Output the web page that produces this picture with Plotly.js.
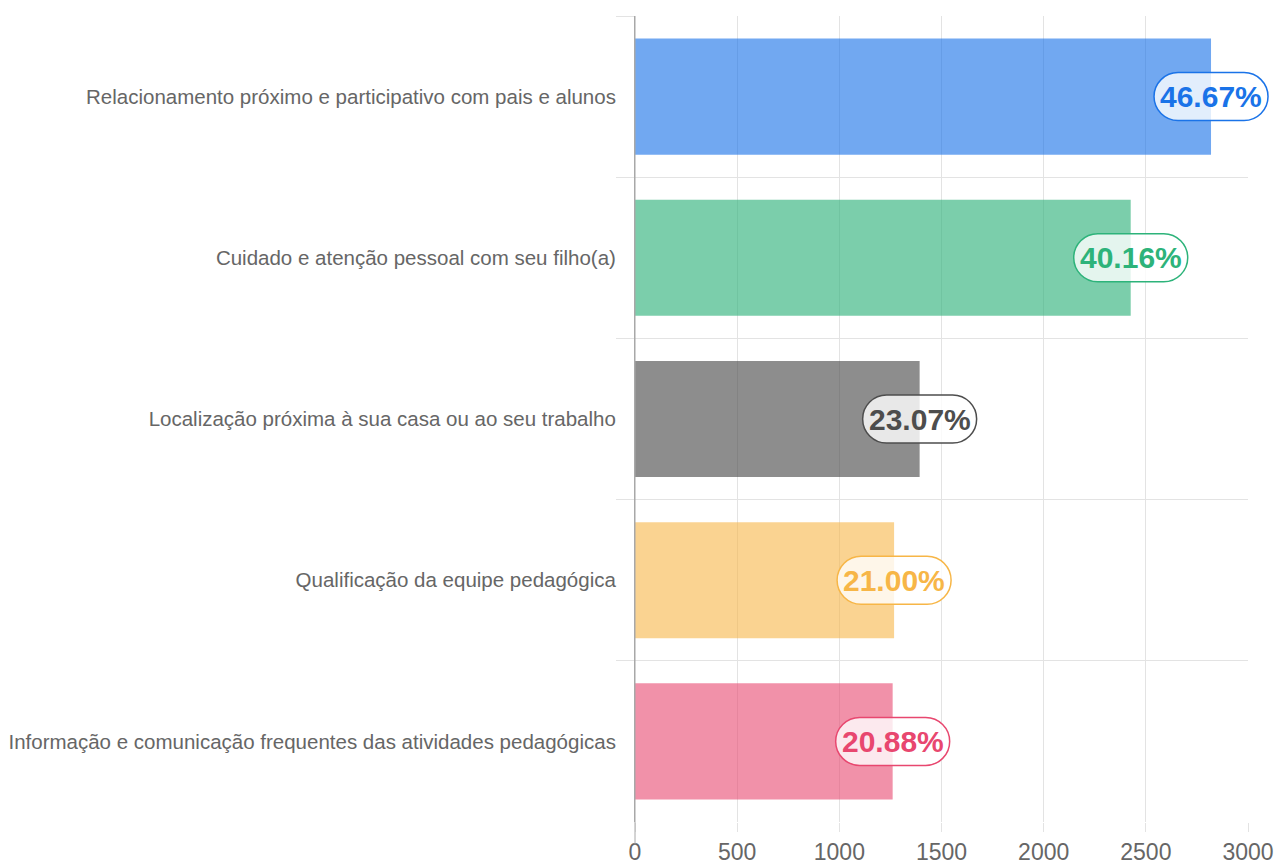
<!DOCTYPE html>
<html>
<head>
<meta charset="utf-8">
<script src="https://cdn.plot.ly/plotly-3.0.1.min.js"></script>
<style>
  html, body { margin: 0; padding: 0; background: #fff; }
  #chart { width: 1279px; height: 865px; }
</style>
</head>
<body>
<div id="chart"></div>
<script>
const categories = [
    'Relacionamento próximo e participativo com pais e alunos',
    'Cuidado e atenção pessoal com seu filho(a)',
    'Localização próxima à sua casa ou ao seu trabalho',
    'Qualificação da equipe pedagógica',
    'Informação e comunicação frequentes das atividades pedagógicas'
];
const counts = [2819, 2426, 1393, 1268, 1261];
const percents = [46.67, 40.16, 23.07, 21.00, 20.88];
const textColors = ['#1a73e8', '#2db37a', '#4d4d4d', '#f7b647', '#e8476f'];
const barColors = ['rgba(26,115,232,0.62)', 'rgba(52,180,126,0.65)', 'rgba(77,77,77,0.64)',
                   'rgba(247,182,72,0.6)', 'rgba(232,71,111,0.6)'];

const FONT = '"Liberation Sans", Arial, Helvetica, sans-serif';
const xRange = [0, 3000];

// pill outline in pixels around an anchor point
function pillPath(w, h) {
    const r = h / 2, a = w / 2 - r, k = r * 0.5523;
    return `M ${-a},${-r} L ${a},${-r} ` +
        `C ${a + k},${-r} ${a + r},${-k} ${a + r},0 ` +
        `C ${a + r},${k} ${a + k},${r} ${a},${r} ` +
        `L ${-a},${r} ` +
        `C ${-a - k},${r} ${-a - r},${k} ${-a - r},0 ` +
        `C ${-a - r},${-k} ${-a - k},${-r} ${-a},${-r} Z`;
}

const trace = {
    type: 'bar',
    orientation: 'h',
    x: counts,
    y: categories,
    marker: { color: barColors, line: { width: 0 } },
    hoverinfo: 'x+y'
};

// paper coords so the pill is not clipped at the plot edge
const n = categories.length;
const xFrac = v => (v - xRange[0]) / (xRange[1] - xRange[0]);
const yFrac = i => 1 - (i + 0.5) / n;

const shapes = categories.map((c, i) => ({
    type: 'path',
    xref: 'paper', yref: 'paper',
    xsizemode: 'pixel', ysizemode: 'pixel',
    xanchor: xFrac(counts[i]), yanchor: yFrac(i),
    path: pillPath(114, 48),
    fillcolor: 'rgba(255,255,255,0.8)',
    line: { color: textColors[i], width: 1.5 },
    layer: 'above'
}));

// darker zero line, running a little below the axis like the tick
shapes.push({
    type: 'line', xref: 'paper', yref: 'paper',
    x0: 0, x1: 0, y0: -0.028, y1: 1,
    line: { color: '#a8a8a8', width: 1 }
});

const annotations = categories.map((c, i) => ({
    x: xFrac(counts[i]), y: yFrac(i),
    xref: 'paper', yref: 'paper',
    text: '<b>' + percents[i].toFixed(2) + '%</b>',
    showarrow: false,
    font: { family: FONT, size: 30, color: textColors[i] },
    xanchor: 'center', yanchor: 'middle'
}));

const layout = {
    width: 1279, height: 865,
    margin: { l: 635, r: 31, t: 16, b: 43 },
    paper_bgcolor: '#fff',
    plot_bgcolor: '#fff',
    font: { family: FONT, color: '#666' },
    bargap: 0.28,
    showlegend: false,
    xaxis: {
        range: xRange,
        dtick: 500,
        tick0: 0,
        showgrid: true,
        gridcolor: '#e3e3e3',
        zeroline: false,
        ticks: 'outside',
        ticklen: 9,
        tickcolor: '#e3e3e3',
        tickfont: { size: 23, color: '#666' },
        minor: { dtick: 500, tick0: 0, ticks: 'outside', ticklen: 23, tickcolor: '#e3e3e3', showgrid: false },
        showline: false,
        fixedrange: true
    },
    yaxis: {
        type: 'category',
        autorange: 'reversed',
        tickson: 'boundaries',
        showgrid: true,
        gridcolor: '#e3e3e3',
        ticks: 'outside',
        ticklen: 18,
        tickcolor: '#e3e3e3',
        ticklabelstandoff: 14,
        tickfont: { size: 20.5, color: '#666' },
        showline: true,
        linecolor: '#a8a8a8',
        linewidth: 1,
        zeroline: false,
        fixedrange: true
    },
    shapes: shapes,
    annotations: annotations
};

Plotly.newPlot('chart', [trace], layout, { displayModeBar: false, staticPlot: true });
</script>
</body>
</html>
